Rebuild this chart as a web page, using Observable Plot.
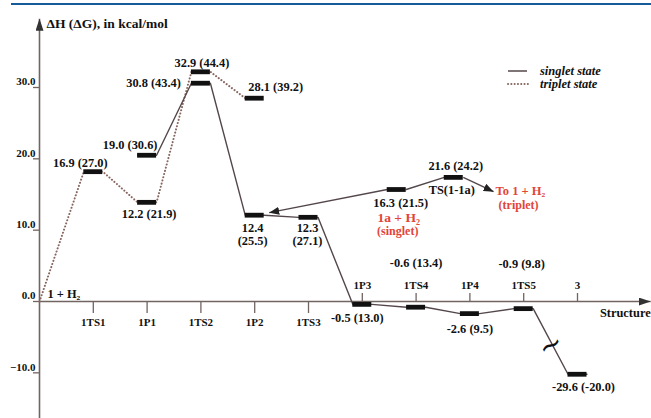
<!DOCTYPE html>
<html><head><meta charset="utf-8">
<script src="https://cdn.jsdelivr.net/npm/d3@7"></script>
<script src="https://cdn.jsdelivr.net/npm/@observablehq/plot@0.6"></script>
<style>
html,body{margin:0;padding:0;background:#fff;}
#wrap{position:relative;width:651px;height:418px;overflow:hidden;background:#fff;}
#topline{position:absolute;left:11px;top:3px;width:640px;height:2px;background:#165a9c;}
#legend{position:absolute;left:500px;top:62px;}
</style></head><body>
<div id="wrap"><div id="topline"></div><div id="legend"></div></div>
<script>
// ---- data ----
const structures = ["1TS1","1P1","1TS2","1P2","1TS3","1P3","1TS4","1P4","1TS5","3"];
const structIndex = [1,2,3,4,5,6,7,8,9,10];
const yTicks = [30, 20, 10, 0, -10];

// singlet surface (solid), drawn level heights
const singletX = [2, 3, 4, 5, 6, 7, 8, 9, 10];
const singletY = [20.5, 30.6, 12.1, 11.8, -0.4, -0.8, -1.7, -1.0, -10.2];
const singletLabel = ["19.0 (30.6)","30.8 (43.4)","12.4\n(25.5)","12.3\n(27.1)","-0.5 (13.0)","-0.6 (13.4)","-2.6 (9.5)","-0.9 (9.8)","-29.6 (-20.0)"];

// triplet surface (dotted)
const tripletX = [0, 1, 2, 3, 4];
const tripletY = [0, 18.2, 13.9, 32.2, 28.5];
const tripletLabel = ["", "16.9 (27.0)", "12.2 (21.9)", "32.9 (44.4)", "28.1 (39.2)"];

// branch 1a + H2 / TS(1-1a)
const branchX = [6.64, 7.70];
const branchY = [15.7, 17.4];
const branchLabel = ["16.3 (21.5)", "21.6 (24.2)"];
const toTripletX = 8.44, toTripletY = 15.4;

// ---- layout / style ----
const X0 = 39, X10 = 577, Y0 = 301, Y30 = 87;
const ux = (X10 - X0) / 10, uy = (Y0 - Y30) / 30;
const hw = 9.5 / ux;
const ink = "#111", lineC = "#54474a", dotC = "#86665f", axisC = "#716562", red = "#e2443a";
const FS = 12.4;
const px = (x, y, dx, dy) => ({x: x + dx / ux, y: y - dy / uy});

const labels = [];
const add = (x, y, dx, dy, text, anchor = "middle", size = FS, color = ink) =>
  labels.push({...px(x, y, dx, dy), text, anchor, size, color});

const sOff = [[-17,-10,"middle"],[-20,0,"end"],[-2,19,"middle"],[-1,17,"middle"],[-5,13,"middle"],[0,-44,"middle"],[0,15,"middle"],[-2,-45,"middle"],[6,13,"middle"]];
singletX.forEach((x,i)=>add(x, singletY[i], sOff[i][0], sOff[i][1], singletLabel[i], sOff[i][2]));
const tOff = [null,[-13,-9],[2,11],[1,-9],[21,-11]];
tripletX.forEach((x,i)=>{ if (i>0) add(x, tripletY[i], tOff[i][0], tOff[i][1], tripletLabel[i]); });
add(branchX[0], branchY[0], 4, 13, branchLabel[0]);
add(branchX[1], branchY[1], 2, -12, branchLabel[1]);
add(branchX[1], branchY[1], -2, 12, "TS(1-1a)");
add(branchX[0], branchY[0], 2, 28, "1a + H\u2082", "middle", 13.5, red);
add(branchX[0], branchY[0], 1, 41, "(singlet)", "middle", 12, red);
add(toTripletX, toTripletY, 2, -1, "To 1 + H\u2082", "start", 12.5, red);
add(toTripletX, toTripletY, 5, 13, "(triplet)", "start", 12, red);
add(0, 0, 8, -8, "1 + H\u2082", "start", FS);
add(0, 39.1, 7, 1, "\u0394H (\u0394G), in kcal/mol", "start", 13.5);
add(11.36, 0, 0, 11, "Structure", "end", FS);
structIndex.forEach((x,i)=> add(x, 0, 0, x <= 5 ? 21 : -16, structures[i], "middle", 11));
yTicks.forEach(v => add(0, v, -4, -6, d3.format(".1f")(v), "end", 11));

// groups of text marks
const groups = d3.groups(labels, d => `${d.anchor}|${d.size}|${d.color}`);
const textMarks = groups.map(([k, arr]) => Plot.text(arr, {
  x: "x", y: "y", text: "text", textAnchor: arr[0].anchor, fontSize: arr[0].size,
  fill: arr[0].color, fontWeight: "bold", lineHeight: 1.05
}));

const bars = [
  ...singletX.map((x,i)=>({x, y: singletY[i]})),
  ...tripletX.slice(1).map((x,i)=>({x, y: tripletY[i+1]})),
  ...branchX.map((x,i)=>({x, y: branchY[i]}))
];
const singletPath = singletX.flatMap((x,i)=>[{x: x-hw, y: singletY[i]},{x: x+hw, y: singletY[i]}]);
const tripletPath = tripletX.flatMap((x,i)=> i===0 ? [{x, y: tripletY[i]}] : [{x: x-hw, y: tripletY[i]},{x: x+hw, y: tripletY[i]}]);
const branchPath = [{x: branchX[0]+hw, y: branchY[0]}, {x: branchX[1]-hw, y: branchY[1]}];
const arrows = [
  {x1: branchX[0]-hw, y1: branchY[0], x2: singletX[2]+hw+5/ux, y2: singletY[2]+2.5/uy},
  {x1: branchX[1]+hw, y1: branchY[1], x2: toTripletX, y2: toTripletY}
];
const axes = [
  {x1: 0, y1: -17, x2: 0, y2: 39.65},
  {x1: 0, y1: 0, x2: 11.36, y2: 0}
];
const breakPt = {x: (singletX[7]+hw + singletX[8]-hw)/2, y: (singletY[7]+singletY[8])/2 - 4/uy};

const chart = Plot.plot({
  width: 651, height: 418,
  x: {domain: [0, 10], range: [X0, X10], axis: null},
  y: {domain: [0, 30], range: [Y0, Y30], axis: null},
  style: {fontFamily: "'Liberation Serif', 'Times New Roman', serif", background: "transparent", overflow: "visible"},
  marks: [
    Plot.link(axes, {x1: "x1", y1: "y1", x2: "x2", y2: "y2", stroke: axisC, strokeWidth: 1.6}),
    Plot.ruleX(structIndex, {x: d => d, y1: 0, y2: d => d <= 5 ? -12/uy : 8/uy, stroke: axisC, strokeWidth: 1.3}),
    Plot.ruleY(yTicks, {y: d => d, x1: -6/ux, x2: 0, stroke: axisC, strokeWidth: 1.3}),
    Plot.line(tripletPath, {x: "x", y: "y", stroke: dotC, strokeWidth: 2, strokeDasharray: "0.1,3.2", strokeLinecap: "round"}),
    Plot.line(singletPath, {x: "x", y: "y", stroke: lineC, strokeWidth: 1.4}),
    Plot.line(branchPath, {x: "x", y: "y", stroke: lineC, strokeWidth: 1.4}),
    Plot.link(arrows, {x1: "x1", y1: "y1", x2: "x2", y2: "y2", stroke: lineC, strokeWidth: 1.4}),
    Plot.ruleY(bars, {y: "y", x1: d => d.x - hw, x2: d => d.x + hw, stroke: ink, strokeWidth: 4.8}),
    Plot.text([breakPt], {x: "x", y: "y", text: () => "~", fontSize: 28, fill: ink, rotate: -28, fontFamily: "DejaVu Sans"}),
    ...textMarks
  ]
});

// filled arrowheads
const svg = d3.select(chart);
const defs = svg.append("defs");
function mk(id, color, len, half) {
  defs.append("marker").attr("id", id).attr("markerUnits", "userSpaceOnUse")
    .attr("viewBox", `${-len} ${-half} ${len} ${2*half}`).attr("refX", 0).attr("refY", 0)
    .attr("markerWidth", len).attr("markerHeight", 2*half).attr("orient", "auto")
    .append("path").attr("d", `M${-len},${-half}L0,0L${-len},${half}Z`).attr("fill", color);
}
mk("ahAxis", "#333", 12, 4);
mk("ahLine", "#222", 10, 4);
const linkGroups = svg.selectAll('g[aria-label="link"]').nodes();
d3.select(linkGroups[0]).selectAll("path,line").attr("marker-end", "url(#ahAxis)");
d3.select(linkGroups[1]).selectAll("path,line").attr("marker-end", "url(#ahLine)");

document.getElementById("wrap").appendChild(chart);
chart.style.position = "absolute"; chart.style.left = "0"; chart.style.top = "0";
document.getElementById("wrap").appendChild(document.getElementById("topline"));

// legend
document.getElementById("legend").innerHTML = `
<svg width="130" height="30" style="font-family:'Liberation Serif',serif;font-weight:bold;font-style:italic;font-size:12.5px">
  <line x1="8" x2="27" y1="9" y2="9" stroke="${lineC}" stroke-width="1.5"/>
  <line x1="8" x2="31" y1="22" y2="22" stroke="${dotC}" stroke-width="2" stroke-dasharray="0.1,3.2" stroke-linecap="round"/>
  <text x="40" y="13" fill="${ink}">singlet state</text>
  <text x="40" y="26" fill="${ink}">triplet state</text>
</svg>`;
document.getElementById("wrap").appendChild(document.getElementById("legend"));
</script></body></html>
